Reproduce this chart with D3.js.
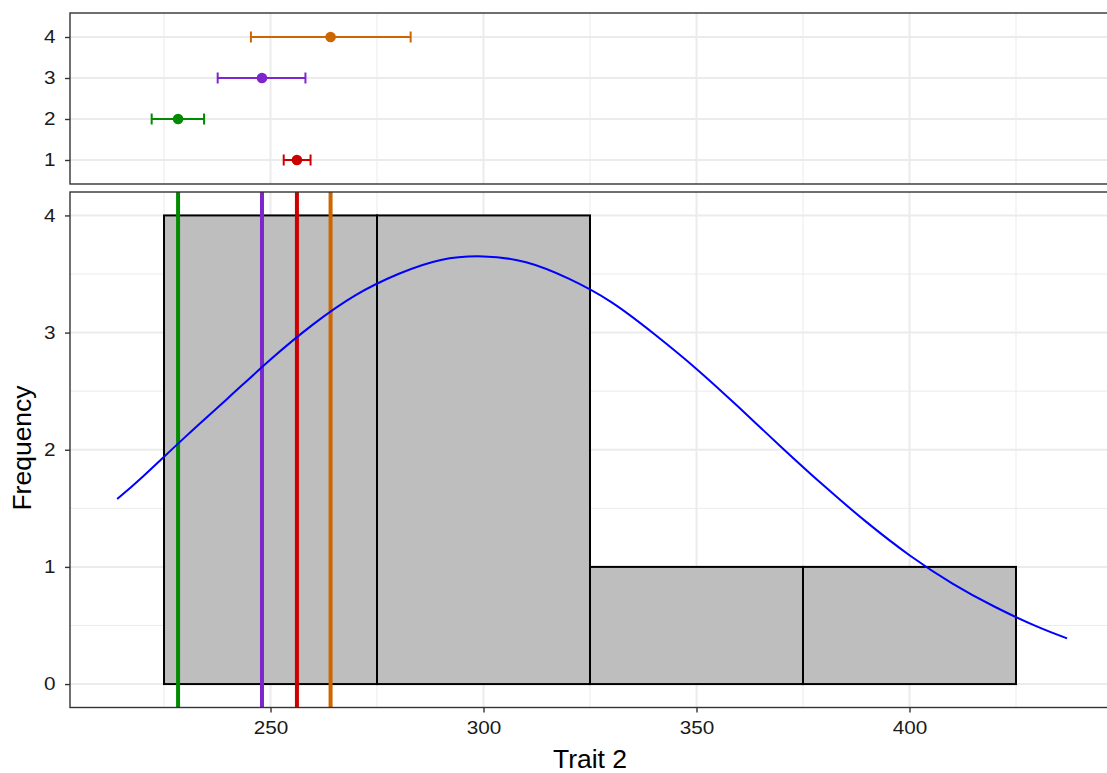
<!DOCTYPE html>
<html><head><meta charset="utf-8">
<script src="https://cdn.jsdelivr.net/npm/d3@7"></script>
<style>body{margin:0;background:#fff}svg{display:block;font-family:"Liberation Sans",Arial,sans-serif}</style>
</head><body>
<script>
// ---- data ----
const groups = ["1","2","3","4"];
const groupColors = ["#CD0000","#008B00","#7D26CD","#CD6600"];
const groupMeans = [256.2, 228.3, 248.0, 264.1];
const groupLow   = [253.1, 222.1, 237.6, 245.4];
const groupHigh  = [259.4, 234.4, 258.2, 282.9];
const binStart = [225, 275, 325, 375];
const binEnd   = [275, 325, 375, 425];
const binCount = [4, 4, 1, 1];
const curveX = [214,220,230,240,250,260,270,280,290,300,310,320,330,340,350,360,370,380,390,400,410,420,430,437];
const curveY = [1.58,1.77,2.11,2.44,2.77,3.07,3.32,3.50,3.62,3.65,3.60,3.46,3.26,2.99,2.69,2.36,2.02,1.69,1.38,1.10,0.86,0.66,0.49,0.39];
const xMajor = [250,300,350,400];
const xMinor = [225,275,325,375,425];
const yTicks = [0,1,2,3,4];
const yMinor = [0.5,1.5,2.5,3.5];

const W=1107,H=773;
const svg=d3.select("body").append("svg").attr("width",W).attr("height",H);
const L=70,R=1108;
const x=d3.scaleLinear().domain([202.93,446.6]).range([L,R]);
const topT=13,topB=184,botT=192,botB=707.5;
const yTop=d3.scalePoint().domain(groups).range([160,37]);
const yBot=d3.scaleLinear().domain([-0.2,4.2]).range([botB,botT]);
const gridCol="#ebebeb", border="#333333";
const FS=18.5, TXT="#1a1a1a", SX=1.12;

function styleAxis(g){
  g.attr("font-size",FS).attr("font-family","Liberation Sans, Arial, sans-serif");
  g.select(".domain").remove();
  g.selectAll("line").attr("stroke",border).attr("stroke-width",1.4);
  g.selectAll("text").attr("font-size",FS).attr("fill",TXT).each(function(){
    const t=d3.select(this); const tx=+t.attr("x")||0;
    t.attr("transform",`translate(${tx},0) scale(${SX},1) translate(${-tx},0)`);
  });
}

// ---- top panel ----
const gt=svg.append("g");
gt.selectAll(".vmin").data(xMinor).join("line").attr("x1",d=>x(d)).attr("x2",d=>x(d)).attr("y1",topT).attr("y2",topB).attr("stroke",gridCol).attr("stroke-width",1);
gt.selectAll(".vmaj").data(xMajor).join("line").attr("x1",d=>x(d)).attr("x2",d=>x(d)).attr("y1",topT).attr("y2",topB).attr("stroke",gridCol).attr("stroke-width",2);
gt.selectAll(".hmaj").data(groups).join("line").attr("x1",L).attr("x2",R).attr("y1",d=>yTop(d)).attr("y2",d=>yTop(d)).attr("stroke",gridCol).attr("stroke-width",2);
const eb=gt.selectAll(".eb").data(groups).join("g");
eb.append("line").attr("x1",(d,i)=>x(groupLow[i])).attr("x2",(d,i)=>x(groupHigh[i])).attr("y1",d=>yTop(d)).attr("y2",d=>yTop(d)).attr("stroke",(d,i)=>groupColors[i]).attr("stroke-width",2);
eb.append("line").attr("x1",(d,i)=>x(groupLow[i])).attr("x2",(d,i)=>x(groupLow[i])).attr("y1",d=>yTop(d)-5.5).attr("y2",d=>yTop(d)+5.5).attr("stroke",(d,i)=>groupColors[i]).attr("stroke-width",2);
eb.append("line").attr("x1",(d,i)=>x(groupHigh[i])).attr("x2",(d,i)=>x(groupHigh[i])).attr("y1",d=>yTop(d)-5.5).attr("y2",d=>yTop(d)+5.5).attr("stroke",(d,i)=>groupColors[i]).attr("stroke-width",2);
eb.append("circle").attr("cx",(d,i)=>x(groupMeans[i])).attr("cy",d=>yTop(d)).attr("r",5.3).attr("fill",(d,i)=>groupColors[i]);
gt.append("rect").attr("x",L).attr("y",topT).attr("width",R-L).attr("height",topB-topT).attr("fill","none").attr("stroke",border).attr("stroke-width",1.4);
styleAxis(gt.append("g").attr("transform",`translate(${L},0)`).call(d3.axisLeft(yTop).tickSize(5).tickPadding(9.5)));

// ---- bottom panel ----
const gb=svg.append("g");
gb.selectAll(".vmin").data(xMinor).join("line").attr("x1",d=>x(d)).attr("x2",d=>x(d)).attr("y1",botT).attr("y2",botB).attr("stroke",gridCol).attr("stroke-width",1);
gb.selectAll(".hmin").data(yMinor).join("line").attr("x1",L).attr("x2",R).attr("y1",d=>yBot(d)).attr("y2",d=>yBot(d)).attr("stroke",gridCol).attr("stroke-width",1);
gb.selectAll(".vmaj").data(xMajor).join("line").attr("x1",d=>x(d)).attr("x2",d=>x(d)).attr("y1",botT).attr("y2",botB).attr("stroke",gridCol).attr("stroke-width",2);
gb.selectAll(".hmaj").data(yTicks).join("line").attr("x1",L).attr("x2",R).attr("y1",d=>yBot(d)).attr("y2",d=>yBot(d)).attr("stroke",gridCol).attr("stroke-width",2);
gb.selectAll(".bar").data(binCount).join("rect")
  .attr("x",(d,i)=>x(binStart[i])).attr("width",(d,i)=>x(binEnd[i])-x(binStart[i]))
  .attr("y",d=>yBot(d)).attr("height",d=>yBot(0)-yBot(d))
  .attr("fill","#bebebe").attr("stroke","#000").attr("stroke-width",2);
gb.selectAll(".vl").data(groups).join("line")
  .attr("x1",(d,i)=>x(groupMeans[i])).attr("x2",(d,i)=>x(groupMeans[i]))
  .attr("y1",botT).attr("y2",botB).attr("stroke",(d,i)=>groupColors[i]).attr("stroke-width",4);
const line=d3.line().x(d=>x(d[0])).y(d=>yBot(d[1])).curve(d3.curveNatural);
gb.append("path").datum(curveX.map((v,i)=>[v,curveY[i]])).attr("d",line).attr("fill","none").attr("stroke","#0000FF").attr("stroke-width",2);
gb.append("rect").attr("x",L).attr("y",botT).attr("width",R-L).attr("height",botB-botT).attr("fill","none").attr("stroke",border).attr("stroke-width",1.4);
styleAxis(gb.append("g").attr("transform",`translate(${L},0)`).call(d3.axisLeft(yBot).tickValues(yTicks).tickFormat(d3.format("d")).tickSize(5).tickPadding(9.5)));
styleAxis(gb.append("g").attr("transform",`translate(0,${botB})`).call(d3.axisBottom(x).tickValues(xMajor).tickFormat(d3.format("d")).tickSize(5).tickPadding(8)));

svg.append("text").attr("x",590).attr("y",768).attr("text-anchor","middle").attr("font-size",26.5).attr("fill","#000").text("Trait 2");
svg.append("text").attr("transform",`translate(31,448) rotate(-90)`).attr("text-anchor","middle").attr("font-size",26.5).attr("fill","#000").text("Frequency");
</script>
</body></html>
